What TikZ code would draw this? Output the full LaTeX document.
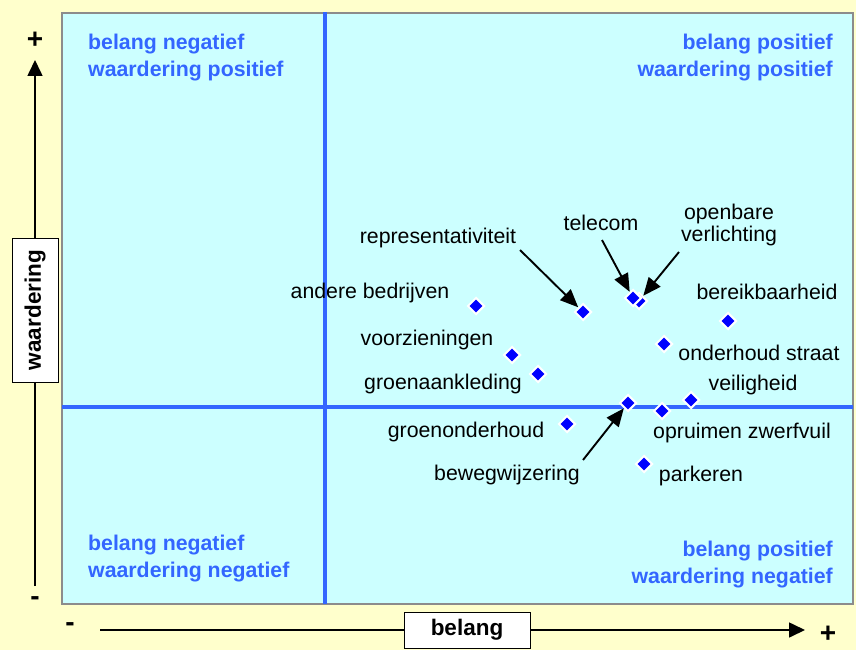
\documentclass[tikz,border=0pt]{standalone}
\usepackage{fontspec}
\setmainfont{Liberation Sans}
\usetikzlibrary{shapes.geometric,arrows.meta}
\definecolor{bgyellow}{HTML}{FFFFCC}
\definecolor{plotcyan}{HTML}{CCFFFF}
\definecolor{qblue}{HTML}{3366FF}
\definecolor{mkblue}{HTML}{0000FF}
\definecolor{frame}{HTML}{8C8C8C}
\tikzset{
  mk/.style={diamond, fill=mkblue, draw=white, line width=2pt, inner sep=0pt, minimum size=17pt},
  lbl/.style={font=\fontsize{21.3}{24}\selectfont, inner sep=1pt, align=center},
  qlbl/.style={font=\fontsize{21.3}{27}\selectfont\bfseries, text=qblue, inner sep=0pt},
  axlbl/.style={draw=black, fill=white, line width=0.8pt, font=\fontsize{22.5}{26}\selectfont\bfseries, inner sep=0pt},
  sign/.style={font=\fontsize{28}{30}\selectfont\bfseries, inner sep=0pt},
  pointer/.style={line width=1.9pt, -{Triangle[length=18pt,width=15pt]}},
  axisarrow/.style={line width=1.6pt, -{Triangle[length=16pt,width=15pt]}},
  qline/.style={qblue, line width=4pt}
}
\begin{document}
\begin{tikzpicture}[x=1pt,y=-1pt]
\useasboundingbox (0,0) rectangle (856,650);
\fill[bgyellow] (0,0) rectangle (856,650);
% plot area
\draw[frame, fill=plotcyan, line width=2.2pt] (62,13) rectangle (853,604);
\draw[qline] (325,12) -- (325,604);
\draw[qline] (62,407) -- (853,407);
% quadrant labels
\node[qlbl, anchor=north west, align=left] (qtl) at (88,34) {belang negatief\\waardering positief};
\node[qlbl, anchor=north east, align=right] (qtr) at (833,34) {belang positief\\waardering positief};
\node[qlbl, anchor=north west, align=left] (qbl) at (88,535) {belang negatief\\waardering negatief};
\node[qlbl, anchor=north east, align=right] (qbr) at (833,541) {belang positief\\waardering negatief};
% vertical axis
\coordinate (vbot) at (35,586);
\coordinate (vtop) at (35,60);
\draw[axisarrow] (vbot) -- (vtop);
\node[axlbl, minimum width=144pt, minimum height=46pt, rotate=90] (wlab) at (35,310) {waardering};
\node[sign] (vplus) at (35,40) {+};
\node[sign] (vminus) at (35,601) {-};
% horizontal axis
\coordinate (hleft) at (100,630);
\coordinate (hright) at (805,630);
\draw[axisarrow] (hleft) -- (hright);
\node[axlbl, minimum width=126pt, minimum height=36pt] (blab) at (467,630) {belang};
\node[sign] (hminus) at (70,627) {-};
\node[sign] (hplus) at (828,634) {+};
% markers
\node[mk] (m-and) at (476,306) {};
\node[mk] (m-rep) at (583,312) {};
\node[mk] (m-ovl) at (639,301) {};
\node[mk] (m-tel) at (633,298) {};
\node[mk] (m-ber) at (728,321) {};
\node[mk] (m-ond) at (664,344) {};
\node[mk] (m-voo) at (512,355) {};
\node[mk] (m-gra) at (538,374) {};
\node[mk] (m-vei) at (691,400) {};
\node[mk] (m-bew) at (628,403) {};
\node[mk] (m-opr) at (662,411) {};
\node[mk] (m-gro) at (567,424) {};
\node[mk] (m-par) at (644,464) {};
% labels
\node[lbl] (l-and) at (370,293) {andere bedrijven};
\node[lbl] (l-rep) at (438,238) {representativiteit};
\node[lbl] (l-tel) at (601,223) {telecom};
\node[lbl] (l-ovl) at (729,225) {openbare\\[-2pt]verlichting};
\node[lbl] (l-ber) at (767,292) {bereikbaarheid};
\node[lbl] (l-ond) at (759,353) {onderhoud straat};
\node[lbl] (l-voo) at (427,340) {voorzieningen};
\node[lbl] (l-gra) at (443,384) {groenaankleding};
\node[lbl] (l-vei) at (753,385) {veiligheid};
\node[lbl] (l-gro) at (466,432) {groenonderhoud};
\node[lbl] (l-opr) at (742,433) {opruimen zwerfvuil};
\node[lbl] (l-bew) at (507,475) {bewegwijzering};
\node[lbl] (l-par) at (701,476) {parkeren};
% pointer arrows
\coordinate (s-rep) at (520,250);
\coordinate (s-tel) at (602,240);
\coordinate (s-ovl) at (679,252);
\coordinate (s-bew) at (583,460);
\draw[pointer] (s-rep) -- (m-rep);
\draw[pointer] (s-tel) -- (m-tel);
\draw[pointer] (s-ovl) -- (m-ovl);
\draw[pointer] (s-bew) -- (m-bew);
\end{tikzpicture}
\end{document}
